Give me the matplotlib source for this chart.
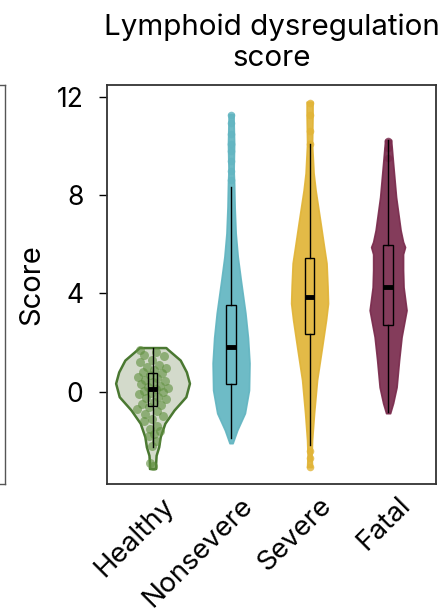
import numpy as np
import matplotlib
matplotlib.use('Agg')
import matplotlib.pyplot as plt
from matplotlib.patches import Rectangle
import matplotlib.transforms as mtransforms

plt.rcParams['font.family'] = ['Inter', 'DejaVu Sans']

# ---------------- data ----------------
groups = ['Healthy', 'Nonsevere', 'Severe', 'Fatal']
colors = ['#5f8f3e', '#62b5c1', '#e1b437', '#7a2b4d']

# violin outlines: score levels and relative density at each level
healthy_y = [1.80, 1.72, 1.29, 0.81, 0.35, -0.20, -0.74, -1.28, -1.83, -2.24, -2.58, -2.91, -3.12]
healthy_d = [13, 15, 27, 33, 36, 32.5, 21, 12, 7.5, 6, 3.5, 3, 3]
nonsev_y = [11.3, 11.0, 10.1, 9.0, 8.5, 7.5, 6.45, 5.5, 4.55, 3.2, 2.2, 1.17, 0.07, -0.87, -1.56, -2.09]
nonsev_d = [2.5, 2.5, 3, 2.5, 3, 3.5, 4.5, 6.5, 9.5, 14, 16.5, 18, 17.5, 13.5, 6, 1.5]
severe_y = [11.8, 11.25, 10.1, 8.9, 8.2, 6.86, 5.9, 5.23, 4.3, 3.6, 2.92, 1.82, 0.48, -0.87, -1.97, -2.6, -3.06]
severe_d = [3, 3, 2.5, 4, 6, 11, 14.5, 17, 18, 18.5, 16.5, 12.5, 7.5, 4.5, 2.5, 2, 2.5]
fatal_y = [10.25, 9.3, 7.92, 6.58, 6.1, 5.89, 5.6, 4.95, 4.26, 3.32, 2.23, 1.29, 0.19, -0.46, -0.87]
fatal_d = [3, 5, 8, 12.5, 15, 17, 15, 15, 15.5, 18.5, 13.5, 11, 8.5, 5, 2]

# box stats: lower whisker, q1, median, q3, upper whisker
box_stats = [
    [-2.25, -0.58, 0.11, 0.76, 1.78],
    [-1.89, 0.31, 1.82, 3.53, 8.33],
    [-2.17, 2.35, 3.86, 5.44, 10.08],
    [-0.83, 2.71, 4.26, 5.97, 10.23],
]

# individual healthy scores
healthy_scores = [1.7, 1.6, 1.5, 1.45, 1.3, 1.2, 1.1, 1.0, 0.95, 0.9, 0.8, 0.75, 0.7,
                  0.6, 0.55, 0.5, 0.45, 0.4, 0.3, 0.25, 0.2, 0.15, 0.1, 0.05, 0.0,
                  -0.05, -0.1, -0.2, -0.25, -0.3, -0.4, -0.5, -0.55, -0.6, -0.7,
                  -0.8, -0.9, -1.0, -1.1, -1.2, -1.4, -1.5, -1.6, -1.7, -1.8,
                  -2.0, -2.2, -2.9, -3.0]

# sparse tail points of the large groups
nonsev_tail = [11.25, 10.95, 10.5, 10.1, 9.8, 9.4, 9.0, 8.6]
severe_tail = [11.75, 11.25, 10.6, 10.1, -2.4, -2.7, -3.06]
fatal_tail = [10.2, 9.9, 9.5]

profiles = [(healthy_y, healthy_d), (nonsev_y, nonsev_d),
            (severe_y, severe_d), (fatal_y, fatal_d)]
tails = [[], nonsev_tail, severe_tail, fatal_tail]
max_half = [0.47, 0.235, 0.235, 0.235]

# ---------------- plot ----------------
fig = plt.figure(figsize=(4.48, 6.16), dpi=100)
ax = fig.add_axes([107/448, 1-483.5/616, 329/448, 398.5/616])

# edge of neighbouring panel
ax0 = fig.add_axes([(5-200)/448, 1-483.5/616, 200/448, 398.5/616])
ax0.set_xticks([]); ax0.set_yticks([])
for s in ax0.spines.values():
    s.set_color('#555555'); s.set_linewidth(1.0)

for i, (py, pd) in enumerate(profiles):
    py = np.array(py); pd = np.array(pd, float)
    hw = pd / pd.max() * max_half[i]
    if i == 0:
        ax.fill_betweenx(py, i - hw, i + hw, facecolor='#d3dacb', edgecolor='#4a7831',
                         linewidth=1.8, zorder=2)
        # jittered points inside the violin
        sc = np.array(healthy_scores)
        local = np.interp(sc, py[::-1], hw[::-1])
        frac = (np.arange(len(sc)) * 0.618034) % 1.0 - 0.5
        xs = i + frac * 2 * np.minimum(0.2, 0.8 * local)
        ax.scatter(xs, sc, s=42, color=colors[0], alpha=0.6, linewidths=0, zorder=3)
    else:
        ax.fill_betweenx(py, i - hw, i + hw, facecolor=colors[i], edgecolor=colors[i],
                         linewidth=1.2, alpha=0.92, zorder=2)
        t = tails[i]
        ax.scatter([i] * len(t), t, s=30, color=colors[i], alpha=0.8, linewidths=0, zorder=2)

    lo, q1, med, q3, hi = box_stats[i]
    bw = 0.125
    ax.plot([i, i], [lo, q1], color='black', lw=1.0, zorder=4)
    ax.plot([i, i], [q3, hi], color='black', lw=1.0, zorder=4)
    if i == 0:
        ax.plot([i, i], [q1, q3], color='black', lw=1.0, zorder=4)
    ax.add_patch(Rectangle((i - bw/2, q1), bw, q3 - q1, facecolor='none',
                           edgecolor='black', lw=1.0, zorder=5))
    ax.plot([i - bw/2, i + bw/2], [med, med], color='black', lw=3.5,
            solid_capstyle='butt', zorder=6)

ax.set_xlim(-0.58, 3.61)
ax.set_ylim(-3.73, 12.48)
ax.set_yticks([0, 4, 8, 12])
ax.set_xticks(range(len(groups)))
ax.set_xticklabels([])
ax.tick_params(axis='x', length=0)

# rotated category labels, shifted like the original
trans = mtransforms.blended_transform_factory(ax.transData, ax.transAxes) + \
    mtransforms.ScaledTranslation(18/100, -18/100, fig.dpi_scale_trans)
for i, g in enumerate(groups):
    ax.text(i, 0, g, transform=trans, rotation=45, ha='right', va='center',
            rotation_mode='anchor', fontsize=20)

ax.tick_params(axis='y', length=6, width=1.0, pad=11, labelsize=19, direction='out')
for s in ax.spines.values():
    s.set_color('#333333'); s.set_linewidth(1.3)

ax.set_ylabel('Score', fontsize=21, labelpad=8)
ax.set_title('Lymphoid dysregulation\nscore', fontsize=21.3, pad=14, linespacing=1.15)

fig.savefig('out.png', dpi=100)
